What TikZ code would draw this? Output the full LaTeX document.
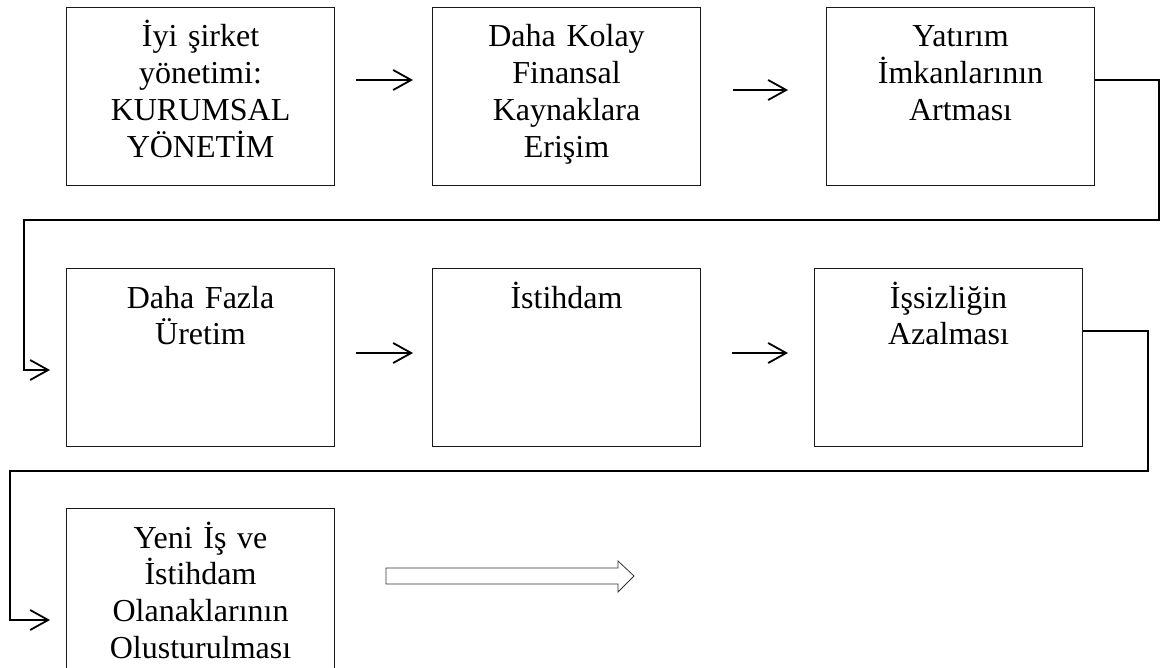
\documentclass[tikz,border=0pt]{standalone}
\usepackage{fontspec}
\setmainfont{Liberation Serif}
\usetikzlibrary{arrows.meta}
\begin{document}
\begin{tikzpicture}[x=1pt,y=-1pt,
  box/.style={draw=black!90, line width=1.1pt, minimum width=268pt, minimum height=178pt,
    inner sep=0pt, anchor=north west},
  txt/.style={anchor=base, align=center, text width=262pt, inner sep=0pt,
    font=\fontsize{32}{36.8}\selectfont},
  flow/.style={line width=1.8pt, -{Straight Barb[length=18pt,width=20pt,line width=1.8pt]}},
  elbow/.style={line width=1.6pt, -{Straight Barb[length=18pt,width=20pt,line width=1.8pt]}},
  hollow/.style={draw=black!80, line width=0.8pt, fill=white, line join=miter}
]
\useasboundingbox (0,0) rectangle (1161,668);
\clip (0,0) rectangle (1161,668);

% boxes
\node[box] (b1) at (66,7) {};
\node[box] (b2) at (432,7) {};
\node[box] (b3) at (826,7) {};
\node[box] (b4) at (66,268) {};
\node[box] (b5) at (432,268) {};
\node[box] (b6) at (814,268) {};
\node[box] (b7) at (66,508) {};

% box texts, first baseline 40pt below the top edge
\node[txt] (t1) at ([yshift=-40pt]b1.north) {İyi şirket\\yönetimi:\\KURUMSAL\\YÖNETİM};
\node[txt] (t2) at ([yshift=-40pt]b2.north) {Daha Kolay\\Finansal\\Kaynaklara\\Erişim};
\node[txt] (t3) at ([yshift=-40pt]b3.north) {Yatırım\\İmkanlarının\\Artması};
\node[txt] (t4) at ([yshift=-40pt]b4.north) {Daha Fazla\\Üretim};
\node[txt] (t5) at ([yshift=-40pt]b5.north) {İstihdam};
\node[txt] (t6) at ([yshift=-40pt]b6.north) {İşsizliğin\\Azalması};
\node[txt] (t7) at ([yshift=-40pt]b7.north) {Yeni İş ve\\İstihdam\\Olanaklarının\\Olusturulması};

% arrows within a row
\draw[flow] ([shift={(21,73)}]b1.north east) -- ([shift={(-19,73)}]b2.north west);
\draw[flow] ([shift={(32,83)}]b2.north east) -- ([shift={(-38,83)}]b3.north west);
\draw[flow] ([shift={(21,85)}]b4.north east) -- ([shift={(-19,85)}]b5.north west);
\draw[flow] ([shift={(31,85)}]b5.north east) -- ([shift={(-26,85)}]b6.north west);

% elbow connectors between rows
\coordinate (r1) at (1159,220);
\coordinate (l1) at (24,220);
\draw[elbow] ([shift={(0,73)}]b3.north east) -| (r1) -- (l1)
  |- ([shift={(-16,102)}]b4.north west);

\coordinate (r2) at (1148,471);
\coordinate (l2) at (10,471);
\draw[elbow] ([shift={(0,63)}]b6.north east) -| (r2) -- (l2)
  |- ([shift={(-16,112)}]b7.north west);

% outlined block arrow
\draw[hollow] (386,568) -- (618,568) -- (618,561) -- (634,576) -- (618,592)
  -- (618,584) -- (386,584) -- cycle;
\end{tikzpicture}
\end{document}
